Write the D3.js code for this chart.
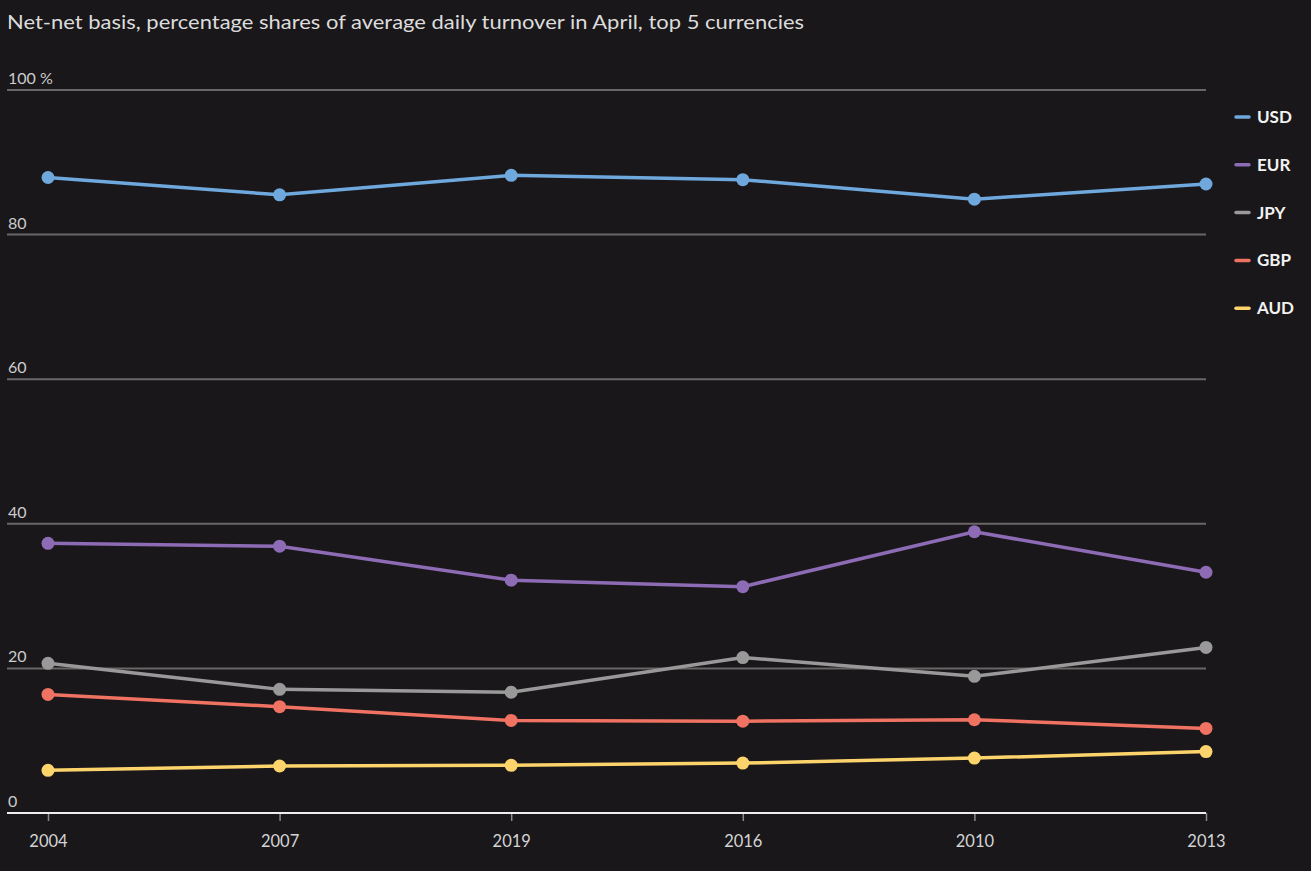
<!DOCTYPE html>
<html>
<head>
<meta charset="utf-8">
<script src="https://cdn.jsdelivr.net/npm/d3@7"></script>
<style>
  html, body { margin: 0; padding: 0; background: #19171a; }
  svg { display: block; font-family: Lato, "Open Sans", sans-serif; }
</style>
</head>
<body>
<svg id="chart" width="1311" height="871"></svg>
<script>
const title = "Net-net basis, percentage shares of average daily turnover in April, top 5 currencies";
const years = ["2004", "2007", "2019", "2016", "2010", "2013"];
const currencies = ["USD", "EUR", "JPY", "GBP", "AUD"];
const colors = ["#6fa8dc", "#8e6bb5", "#999999", "#ef7262", "#fdd46c"];
const usd = [87.9, 85.5, 88.2, 87.6, 84.9, 87.0];
const eur = [37.3, 36.9, 32.2, 31.3, 38.9, 33.3];
const jpy = [20.7, 17.1, 16.7, 21.5, 18.9, 22.9];
const gbp = [16.4, 14.7, 12.8, 12.7, 12.9, 11.7];
const aud = [5.9, 6.5, 6.6, 6.9, 7.6, 8.5];
const yTicks = [0, 20, 40, 60, 80, 100];
const yTickLabels = ["0", "20", "40", "60", "80", "100 %"];

const seriesValues = [usd, eur, jpy, gbp, aud];
const series = currencies.map((c, i) => ({ name: c, color: colors[i], values: seriesValues[i] }));

(function () {
const svg = d3.select("#chart");
const mLeft = 7, plotLeft = 48, plotRight = 1206, mTop = 90, mBottom = 813;

const x = d3.scalePoint().domain(years).range([plotLeft, plotRight]);
const y = d3.scaleLinear().domain([0, 100]).range([mBottom, mTop]);

svg.append("text")
  .attr("x", 7).attr("y", 29)
  .attr("fill", "#dcdcdc")
  .attr("font-size", 20)
  .attr("textLength", 797)
  .attr("lengthAdjust", "spacingAndGlyphs")
  .text(title);

// gridlines
const grid = svg.append("g");
yTicks.forEach((t, i) => {
  if (t !== 0) {
    grid.append("line")
      .attr("x1", mLeft).attr("x2", plotRight)
      .attr("y1", y(t)).attr("y2", y(t))
      .attr("stroke", "#6b6666").attr("stroke-width", 2);
  }
  grid.append("text")
    .attr("x", 8).attr("y", y(t) - 6)
    .attr("fill", "#cccccc")
    .attr("font-size", 16)
    .text(yTickLabels[i]);
});

// x axis
const xAxis = svg.append("g")
  .attr("transform", `translate(0,${mBottom})`)
  .call(d3.axisBottom(x).tickSize(8).tickPadding(14));
xAxis.select(".domain").remove();
xAxis.selectAll(".tick line").attr("stroke", "#8a8a8a").attr("stroke-width", 1.5);
xAxis.selectAll(".tick text").attr("fill", "#d4d4d4").attr("font-size", 16.5).attr("font-family", "Lato, sans-serif");
svg.append("line")
  .attr("x1", mLeft).attr("x2", plotRight)
  .attr("y1", mBottom).attr("y2", mBottom)
  .attr("stroke", "#eeeeee").attr("stroke-width", 2);

// lines
const line = d3.line().x((d, i) => x(years[i])).y(d => y(d));
const g = svg.append("g");
series.slice().reverse().forEach(s => {
  g.append("path")
    .datum(s.values)
    .attr("d", line)
    .attr("fill", "none")
    .attr("stroke", s.color)
    .attr("stroke-width", 3.5);
  g.selectAll(null)
    .data(s.values)
    .enter().append("circle")
    .attr("cx", (d, i) => x(years[i]))
    .attr("cy", d => y(d))
    .attr("r", 6.5)
    .attr("fill", s.color);
});

// legend
const legend = svg.append("g");
series.forEach((s, i) => {
  const ly = 117 + i * 47.8;
  legend.append("line")
    .attr("x1", 1236).attr("x2", 1249)
    .attr("y1", ly).attr("y2", ly)
    .attr("stroke", s.color).attr("stroke-width", 3.5)
    .attr("stroke-linecap", "round");
  legend.append("text")
    .attr("x", 1257).attr("y", ly + 6)
    .attr("fill", "#f2f2f2")
    .attr("font-size", 17)
    .attr("font-weight", "bold")
    .text(s.name);
});
})();
</script>
</body>
</html>
